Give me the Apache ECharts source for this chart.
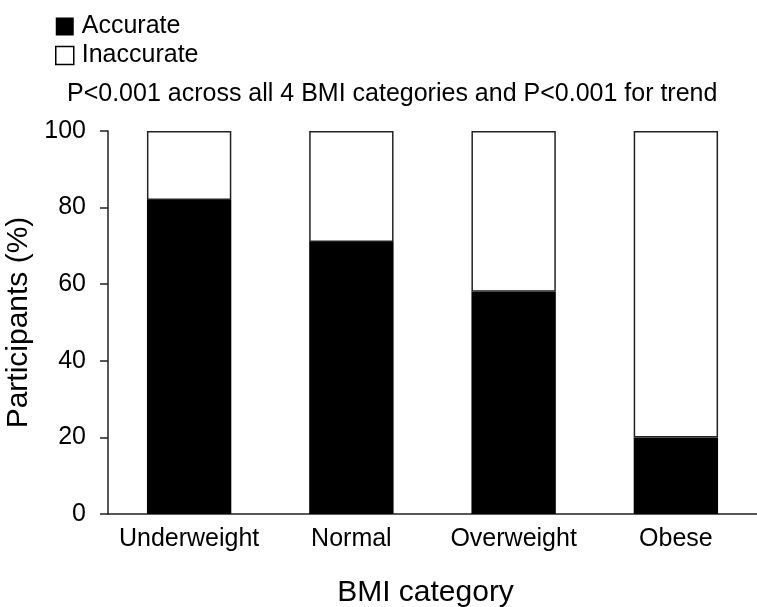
<!DOCTYPE html>
<html>
<head>
<meta charset="utf-8">
<script src="https://cdn.jsdelivr.net/npm/echarts@6/dist/echarts.min.js"></script>
<style>html,body{margin:0;padding:0;background:#fff;}#c{width:757px;height:607px;}</style>
</head>
<body>
<div id="c"></div>
<script>
const categories = ['Underweight', 'Normal', 'Overweight', 'Obese'];
const accurate = [82, 71, 58, 20];
const inaccurate = [18, 29, 42, 80];
const yTicks = [0, 20, 40, 60, 80, 100];
const noteText = 'P<0.001 across all 4 BMI categories and P<0.001 for trend';

const FONT = '"Liberation Sans", Arial, Helvetica, sans-serif';
const chart = echarts.init(document.getElementById('c'));
chart.setOption({
  animation: false,
  backgroundColor: '#fff',
  textStyle: { fontFamily: FONT, color: '#000' },
  legend: {
    orient: 'vertical',
    left: 50,
    top: 9,
    itemWidth: 18,
    itemHeight: 18,
    itemGap: 4,
    icon: 'rect',
    textStyle: { fontSize: 25, color: '#000', fontFamily: FONT, padding: [0, 0, 0, 3] },
    data: [
      { name: 'Accurate', itemStyle: { color: '#000', borderColor: '#000', borderWidth: 0 } },
      { name: 'Inaccurate', itemStyle: { color: '#fff', borderColor: '#000', borderWidth: 1.5 } }
    ]
  },
  graphic: [{
    type: 'text',
    left: 67,
    top: 82,
    style: { text: noteText, fontSize: 25, fill: '#000', fontFamily: FONT }
  }],
  grid: { left: 108, right: 0, top: 131, bottom: 93, containLabel: false, outerBoundsMode: 'none' },
  xAxis: {
    type: 'category',
    data: categories,
    name: 'BMI category',
    nameLocation: 'middle',
    nameGap: 64,
    nameTextStyle: { fontSize: 30, color: '#000', fontFamily: FONT, padding: [0, 14, 0, 0] },
    axisLine: { lineStyle: { color: '#222', width: 1.5 } },
    axisTick: { show: false },
    axisLabel: { fontSize: 25, color: '#000', margin: 13, fontFamily: FONT, interval: 0 }
  },
  yAxis: {
    type: 'value',
    min: 0,
    max: 100,
    interval: 20,
    name: 'Participants (%)',
    nameLocation: 'middle',
    nameGap: 66,
    nameTextStyle: { fontSize: 30, color: '#000', fontFamily: FONT },
    axisLine: { show: true, lineStyle: { color: '#222', width: 1.5 } },
    axisTick: { show: true, length: 8, lineStyle: { color: '#222', width: 1.5 } },
    axisLabel: {
      fontSize: 25, color: '#000', margin: 22, fontFamily: FONT,
      formatter: v => yTicks.includes(v) ? String(v) : ''
    },
    splitLine: { show: false }
  },
  series: [
    {
      name: 'Accurate', type: 'bar', stack: 'a', barWidth: '52%',
      data: accurate,
      itemStyle: { color: '#000' }
    },
    {
      name: 'Inaccurate', type: 'bar', stack: 'a', barWidth: '52%',
      data: inaccurate,
      itemStyle: { color: '#fff', borderColor: '#222', borderWidth: 1.5 }
    }
  ]
});
</script>
</body>
</html>
